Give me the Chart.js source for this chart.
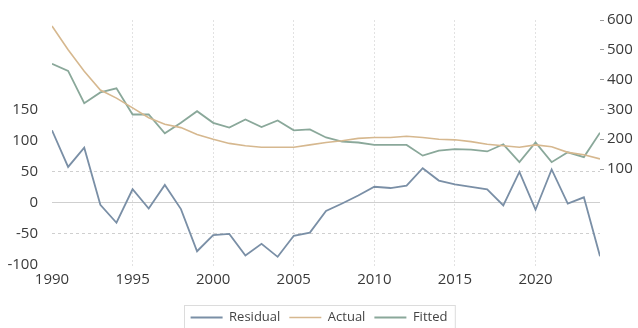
<!DOCTYPE html>
<html lang="en">
<head>
    <meta charset="UTF-8" />
    <title>Residual / Actual / Fitted</title>
    <script src="https://cdn.jsdelivr.net/npm/chart.js"></script>
    <style>
        html, body {
            margin: 0;
            padding: 0;
            background: #ffffff;
        }

        .chart-box {
            width: 638px;
            height: 328px;
        }
    </style>
</head>
<body>

<div class="chart-box">
    <canvas id="resChart" width="638" height="328"></canvas>
</div>

<script>
    const years = [1990, 1991, 1992, 1993, 1994, 1995, 1996, 1997, 1998, 1999,
                   2000, 2001, 2002, 2003, 2004, 2005, 2006, 2007, 2008, 2009,
                   2010, 2011, 2012, 2013, 2014, 2015, 2016, 2017, 2018, 2019,
                   2020, 2021, 2022, 2023, 2024];

    const residual = [116, 57, 88, -4, -33, 21, -10, 28, -11, -79,
                      -53, -51, -86, -67, -88, -54, -49, -14, -2, 11,
                      25, 23, 27, 55, 35, 29, 25, 21, -5, 49,
                      -12, 53, -2, 8, -87];

    const actual = [580, 500, 428, 365, 338, 305, 272, 250, 239, 216,
                    200, 186, 178, 173, 173, 173, 181, 189, 195, 203,
                    206, 206, 210, 206, 200, 198, 192, 183, 178, 173,
                    181, 175, 156, 148, 134];

    const fitted = [453, 429, 321, 357, 371, 283, 283, 220, 255, 294,
                    255, 239, 266, 241, 263, 230, 233, 206, 192, 189,
                    181, 181, 181, 145, 162, 167, 165, 159, 183, 123,
                    189, 123, 156, 140, 222];

    const xTicks = [1990, 1995, 2000, 2005, 2010, 2015, 2020];
    const leftTicks = [-100, -50, 0, 50, 100, 150];
    const rightTicks = [100, 200, 300, 400, 500, 600];

    // horizontal reference lines on the residual axis
    const refSolid = [0];
    const refDashed = [50, -50];

    const toPoints = (arr) => arr.map((v, i) => ({ x: years[i], y: v }));

    const tickFont = { family: "'Open Sans', sans-serif", size: 15 };

    const refLines = {
        id: 'refLines',
        beforeDatasetsDraw(chart) {
            const ctx = chart.ctx;
            const area = chart.chartArea;
            const ys = chart.scales.y;
            ctx.save();
            ctx.lineWidth = 1;
            ctx.strokeStyle = '#cfcfcf';
            refSolid.forEach(v => {
                const py = Math.round(ys.getPixelForValue(v)) + 0.5;
                ctx.beginPath();
                ctx.moveTo(area.left, py);
                ctx.lineTo(area.right, py);
                ctx.stroke();
            });
            ctx.setLineDash([3, 3]);
            refDashed.forEach(v => {
                const py = Math.round(ys.getPixelForValue(v)) + 0.5;
                ctx.beginPath();
                ctx.moveTo(area.left, py);
                ctx.lineTo(area.right, py);
                ctx.stroke();
            });
            ctx.restore();
        }
    };

    const legendFrame = {
        id: 'legendFrame',
        afterDraw(chart) {
            const boxes = chart.legend && chart.legend.legendHitBoxes;
            if (!boxes || !boxes.length) return;
            const left = Math.min(...boxes.map(b => b.left)) - 7;
            const right = Math.max(...boxes.map(b => b.left + b.width)) + 7;
            const top = Math.min(...boxes.map(b => b.top)) - 6;
            const bottom = Math.max(...boxes.map(b => b.top + b.height)) + 6;
            const ctx = chart.ctx;
            ctx.save();
            ctx.strokeStyle = '#dcdcdc';
            ctx.lineWidth = 1;
            ctx.strokeRect(Math.round(left) + 0.5, Math.round(top) + 0.5, right - left, bottom - top);
            ctx.restore();
        }
    };

    new Chart(document.getElementById('resChart'), {
        type: 'line',
        data: {
            datasets: [
                {
                    label: 'Residual',
                    data: toPoints(residual),
                    yAxisID: 'y',
                    borderColor: '#7a8fa6',
                    backgroundColor: '#7a8fa6',
                    borderWidth: 1.8,
                    pointRadius: 0,
                    tension: 0
                },
                {
                    label: 'Actual',
                    data: toPoints(actual),
                    yAxisID: 'y1',
                    borderColor: '#d6b88f',
                    backgroundColor: '#d6b88f',
                    borderWidth: 1.6,
                    pointRadius: 0,
                    tension: 0
                },
                {
                    label: 'Fitted',
                    data: toPoints(fitted),
                    yAxisID: 'y1',
                    borderColor: '#8aa89a',
                    backgroundColor: '#8aa89a',
                    borderWidth: 1.8,
                    pointRadius: 0,
                    tension: 0
                }
            ]
        },
        options: {
            responsive: false,
            animation: false,
            layout: {
                padding: { top: 20, left: 0, right: 0, bottom: -6 }
            },
            scales: {
                x: {
                    type: 'linear',
                    min: 1990,
                    max: 2024,
                    afterBuildTicks: (scale) => {
                        scale.ticks = xTicks.map(v => ({ value: v }));
                    },
                    afterFit: (scale) => { scale.height = 34; },
                    ticks: {
                        color: '#3a3a3a',
                        font: tickFont,
                        padding: 3,
                        maxRotation: 0,
                        callback: (v) => String(v)
                    },
                    grid: {
                        drawTicks: false,
                        color: (c) => (c.tick && c.tick.value === 1990) ? 'rgba(0,0,0,0)' : '#e2e2e2',
                        lineWidth: 1
                    },
                    border: { display: false, dash: [2, 2] }
                },
                y: {
                    position: 'left',
                    min: -106,
                    max: 294,
                    afterBuildTicks: (scale) => {
                        scale.ticks = leftTicks.map(v => ({ value: v }));
                    },
                    afterFit: (scale) => { scale.width = 52; },
                    ticks: {
                        color: '#3a3a3a',
                        font: tickFont,
                        padding: 6
                    },
                    grid: { display: false },
                    border: { display: false }
                },
                y1: {
                    position: 'right',
                    min: -232,
                    max: 600,
                    afterBuildTicks: (scale) => {
                        scale.ticks = rightTicks.map(v => ({ value: v }));
                    },
                    afterFit: (scale) => { scale.width = 38; },
                    ticks: {
                        color: '#3a3a3a',
                        font: tickFont,
                        padding: 3
                    },
                    grid: {
                        drawOnChartArea: false,
                        drawTicks: true,
                        tickLength: 4,
                        tickColor: '#9a9a9a'
                    },
                    border: { display: false }
                }
            },
            plugins: {
                legend: {
                    position: 'bottom',
                    labels: {
                        color: '#444',
                        font: { family: "'Open Sans', sans-serif", size: 13 },
                        boxWidth: 32,
                        boxHeight: 0,
                        padding: 9
                    }
                },
                tooltip: { enabled: false }
            }
        },
        plugins: [refLines, legendFrame]
    });
</script>

</body>
</html>
